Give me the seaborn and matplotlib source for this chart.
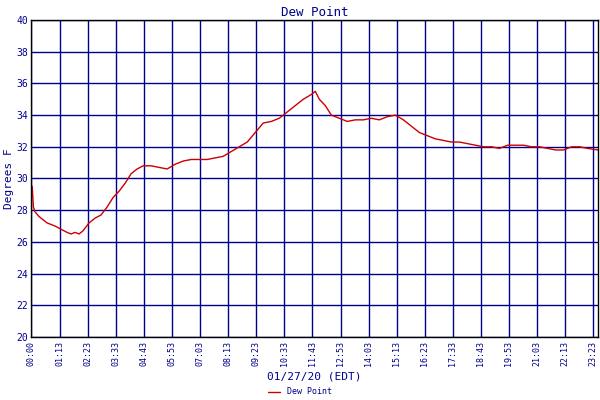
import matplotlib
matplotlib.use("Agg")
import matplotlib.pyplot as plt
import seaborn as sns
import pandas as pd

minutes = [0,3,6,10,20,30,40,50,60,75,90,100,110,120,130,145,160,175,190,205,220,235,250,265,280,300,320,340,360,380,400,420,440,460,480,500,520,540,560,580,600,620,640,660,680,700,710,720,735,750,770,790,810,830,850,870,890,910,930,950,970,990,1010,1030,1050,1070,1090,1110,1130,1150,1170,1190,1210,1230,1250,1270,1290,1310,1330,1350,1370,1390,1416]
dew = [28.5,29.5,28.2,27.9,27.6,27.4,27.2,27.1,27.0,26.8,26.6,26.5,26.6,26.5,26.7,27.2,27.5,27.7,28.2,28.8,29.2,29.7,30.3,30.6,30.8,30.8,30.7,30.6,30.9,31.1,31.2,31.2,31.2,31.3,31.4,31.7,32.0,32.3,32.9,33.5,33.6,33.8,34.2,34.6,35.0,35.3,35.5,35.0,34.6,34.0,33.8,33.6,33.7,33.7,33.8,33.7,33.9,34.0,33.7,33.3,32.9,32.7,32.5,32.4,32.3,32.3,32.2,32.1,32.0,32.0,31.9,32.1,32.1,32.1,32.0,32.0,31.9,31.8,31.8,32.0,32.0,31.9,31.8]
tick_min = [0,73,143,213,283,353,423,493,563,633,703,773,843,913,983,1053,1123,1193,1263,1333,1403]
tick_lab = ["00:00","01:13","02:23","03:33","04:43","05:53","07:03","08:13","09:23","10:33","11:43","12:53","14:03","15:13","16:23","17:33","18:43","19:53","21:03","22:13","23:23"]

sns.set_theme(style="white")
plt.rcParams['font.family'] = ['DejaVu Sans Mono']
navy = "#00008B"
fig = plt.figure(figsize=(6, 4), dpi=100)
ax = fig.add_axes([31/600, 63/400, 567/600, 317/400])
df = pd.DataFrame({"m": minutes, "v": dew})
sns.lineplot(data=df, x="m", y="v", ax=ax, color="#CC0000", lw=1, label="Dew Point")
ax.set_xlim(0, 1416)
ax.set_ylim(20, 40)
ax.set_yticks(range(20, 41, 2))
ax.set_xticks(tick_min)
ax.set_xticklabels(tick_lab, rotation=90, fontsize=6, color=navy)
ax.tick_params(axis='y', labelsize=7, colors=navy, length=0, pad=2)
ax.tick_params(axis='x', length=0, pad=3)
ax.grid(True, color=navy, lw=1)
for s in ax.spines.values():
    s.set_color("black"); s.set_linewidth(1)
ax.set_xlabel("01/27/20 (EDT)", fontsize=8, color=navy, labelpad=4)
ax.set_ylabel("Degrees F", fontsize=8, color=navy, labelpad=2)
ax.set_title("Dew Point", fontsize=9, color=navy, pad=3)
h, l = ax.get_legend_handles_labels()
ax.get_legend().remove()
fig.legend(h, l, loc="lower center", bbox_to_anchor=(0.5, -0.01), frameon=False, fontsize=6,
           labelcolor=navy, handlelength=1.5)
fig.savefig("out.png", dpi=100)
